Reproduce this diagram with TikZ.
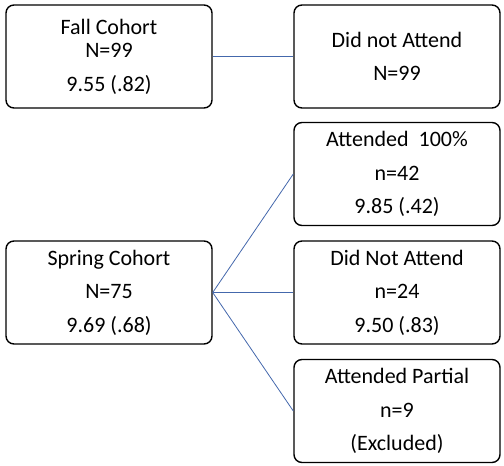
\documentclass[tikz,border=0pt]{standalone}
\usepackage{fontspec}
\setmainfont{Carlito}
\begin{document}
\begin{tikzpicture}[x=1pt,y=-1pt,
  box/.style={draw=black, line width=1.4pt, rounded corners=8pt, minimum width=206pt, minimum height=103pt, align=center, inner sep=0pt, font=\fontsize{22pt}{33.5pt}\selectfont},
  link/.style={draw={rgb,255:red,68;green,104;blue,172}, line width=0.8pt}]
\useasboundingbox (0,0) rectangle (504,466);
\node[box] (fall) at (109,56.5) {Fall Cohort\\[-10pt]N=99\\9.55 (.82)};
\node[box] (dna1) at (397,56.5) {Did not Attend\\N=99};
\node[box] (spring) at (109,292.5) {Spring Cohort\\N=75\\9.69 (.68)};
\node[box] (att) at (397,174) {Attended\ \ 100\%\\n=42\\9.85 (.42)};
\node[box] (dna2) at (397,292.5) {Did Not Attend\\n=24\\9.50 (.83)};
\node[box] (part) at (397,411) {Attended Partial\\n=9\\(Excluded)};
\draw[link] (fall.east) -- (dna1.west);
\draw[link] (spring.east) -- (att.west);
\draw[link] (spring.east) -- (dna2.west);
\draw[link] (spring.east) -- (part.west);
\end{tikzpicture}
\end{document}
